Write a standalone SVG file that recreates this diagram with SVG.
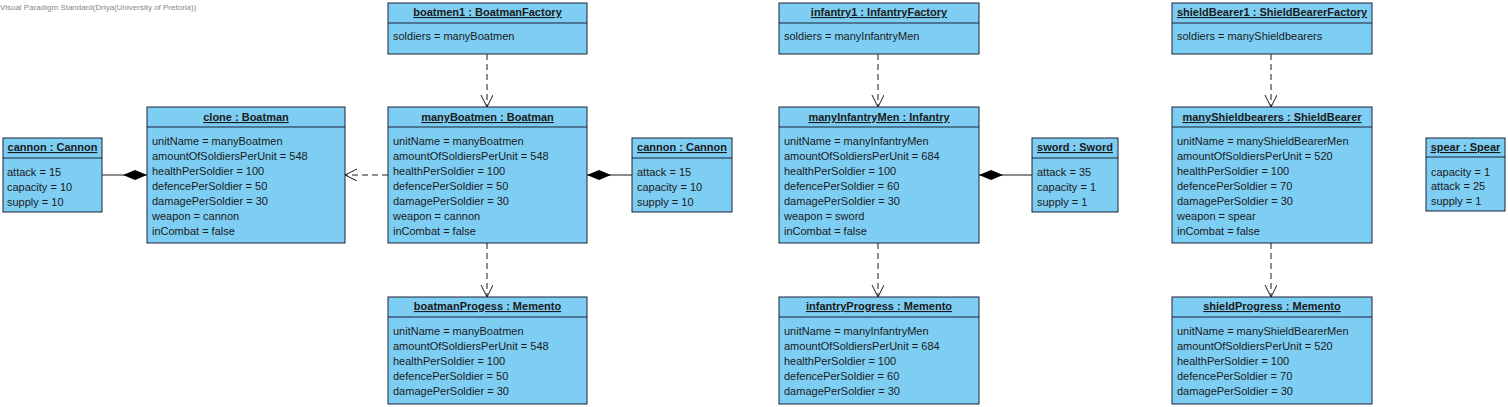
<svg xmlns="http://www.w3.org/2000/svg" width="1508" height="407" viewBox="0 0 1508 407">
<style>
.box{fill:#7ECEF4;stroke:#1a2238;stroke-width:1}
.sep{stroke:#1a2238;stroke-width:1}
.h{font-family:"Liberation Sans",Arial,sans-serif;font-size:11px;font-weight:bold;fill:#1a1a1a;text-anchor:middle;text-decoration:underline}
.a{font-family:"Liberation Sans",Arial,sans-serif;font-size:11px;fill:#1a1a1a}
.wm{font-family:"Liberation Sans",Arial,sans-serif;font-size:8px;fill:#888}
.dep{stroke:#1a1a1a;stroke-width:1;fill:none;stroke-dasharray:6,4}
.comp{stroke:#1a1a1a;stroke-width:1;fill:none}
</style>
<defs>
<marker id="open" markerUnits="userSpaceOnUse" markerWidth="14" markerHeight="14" refX="12" refY="6" orient="auto" viewBox="0 0 14 14">
<path d="M0,0 L12,6 L0,12" fill="none" stroke="#1a1a1a" stroke-width="1"/>
</marker>
<marker id="dia" markerUnits="userSpaceOnUse" markerWidth="26" markerHeight="12" refX="24" refY="5" orient="auto" viewBox="0 0 26 12">
<path d="M0,5 L12,0 L24,5 L12,10 Z" fill="#000"/>
</marker>
</defs>
<text class="wm" x="0" y="10">Visual Paradigm Standard(Driya(University of Pretoria))</text>

<g id="connectors">
<line class="dep" x1="487" y1="54" x2="487" y2="107" marker-end="url(#open)"/>
<line class="dep" x1="487" y1="243" x2="487" y2="297" marker-end="url(#open)"/>
<line class="dep" x1="388" y1="175" x2="345" y2="175" marker-end="url(#open)"/>
<line class="comp" x1="102" y1="175" x2="147" y2="175" marker-end="url(#dia)"/>
<line class="comp" x1="632" y1="175" x2="587" y2="175" marker-end="url(#dia)"/>
<line class="dep" x1="878" y1="54" x2="878" y2="107" marker-end="url(#open)"/>
<line class="dep" x1="878" y1="243" x2="878" y2="297" marker-end="url(#open)"/>
<line class="comp" x1="1032" y1="175" x2="979" y2="175" marker-end="url(#dia)"/>
<line class="dep" x1="1271" y1="54" x2="1271" y2="107" marker-end="url(#open)"/>
<line class="dep" x1="1271" y1="243" x2="1271" y2="297" marker-end="url(#open)"/>
</g>

<g id="cannonLeft">
<rect class="box" x="3" y="138" width="99" height="74"/>
<line class="sep" x1="3" y1="158" x2="102" y2="158"/>
<text class="h" x="52.5" y="151">cannon : Cannon</text>
<text class="a" x="7" y="176">attack = 15</text>
<text class="a" x="7" y="191">capacity = 10</text>
<text class="a" x="7" y="206">supply = 10</text>
</g>

<g id="clone">
<rect class="box" x="147" y="107" width="198" height="136"/>
<line class="sep" x1="147" y1="127" x2="345" y2="127"/>
<text class="h" x="246" y="121">clone : Boatman</text>
<text class="a" x="152" y="145">unitName = manyBoatmen</text>
<text class="a" x="152" y="160">amountOfSoldiersPerUnit = 548</text>
<text class="a" x="152" y="175">healthPerSoldier = 100</text>
<text class="a" x="152" y="190">defencePerSoldier = 50</text>
<text class="a" x="152" y="205">damagePerSoldier = 30</text>
<text class="a" x="152" y="220">weapon = cannon</text>
<text class="a" x="152" y="235">inCombat = false</text>
</g>

<g id="boatmen1">
<rect class="box" x="388" y="3" width="199" height="51"/>
<line class="sep" x1="388" y1="23" x2="587" y2="23"/>
<text class="h" x="487.5" y="16">boatmen1 : BoatmanFactory</text>
<text class="a" x="393" y="40">soldiers = manyBoatmen</text>
</g>

<g id="manyBoatmen">
<rect class="box" x="388" y="107" width="199" height="136"/>
<line class="sep" x1="388" y1="127" x2="587" y2="127"/>
<text class="h" x="487.5" y="121">manyBoatmen : Boatman</text>
<text class="a" x="393" y="145">unitName = manyBoatmen</text>
<text class="a" x="393" y="160">amountOfSoldiersPerUnit = 548</text>
<text class="a" x="393" y="175">healthPerSoldier = 100</text>
<text class="a" x="393" y="190">defencePerSoldier = 50</text>
<text class="a" x="393" y="205">damagePerSoldier = 30</text>
<text class="a" x="393" y="220">weapon = cannon</text>
<text class="a" x="393" y="235">inCombat = false</text>
</g>

<g id="cannonRight">
<rect class="box" x="632" y="138" width="100" height="74"/>
<line class="sep" x1="632" y1="158" x2="732" y2="158"/>
<text class="h" x="682" y="151">cannon : Cannon</text>
<text class="a" x="637" y="176">attack = 15</text>
<text class="a" x="637" y="191">capacity = 10</text>
<text class="a" x="637" y="206">supply = 10</text>
</g>

<g id="boatmanProgess">
<rect class="box" x="388" y="297" width="199" height="107"/>
<line class="sep" x1="388" y1="317" x2="587" y2="317"/>
<text class="h" x="487.5" y="310">boatmanProgess : Memento</text>
<text class="a" x="393" y="335">unitName = manyBoatmen</text>
<text class="a" x="393" y="350">amountOfSoldiersPerUnit = 548</text>
<text class="a" x="393" y="365">healthPerSoldier = 100</text>
<text class="a" x="393" y="380">defencePerSoldier = 50</text>
<text class="a" x="393" y="395">damagePerSoldier = 30</text>
</g>

<g id="infantry1">
<rect class="box" x="779" y="3" width="200" height="51"/>
<line class="sep" x1="779" y1="23" x2="979" y2="23"/>
<text class="h" x="879" y="16">infantry1 : InfantryFactory</text>
<text class="a" x="784" y="40">soldiers = manyInfantryMen</text>
</g>

<g id="manyInfantryMen">
<rect class="box" x="779" y="107" width="200" height="136"/>
<line class="sep" x1="779" y1="127" x2="979" y2="127"/>
<text class="h" x="879" y="121">manyInfantryMen : Infantry</text>
<text class="a" x="784" y="145">unitName = manyInfantryMen</text>
<text class="a" x="784" y="160">amountOfSoldiersPerUnit = 684</text>
<text class="a" x="784" y="175">healthPerSoldier = 100</text>
<text class="a" x="784" y="190">defencePerSoldier = 60</text>
<text class="a" x="784" y="205">damagePerSoldier = 30</text>
<text class="a" x="784" y="220">weapon = sword</text>
<text class="a" x="784" y="235">inCombat = false</text>
</g>

<g id="sword">
<rect class="box" x="1032" y="138" width="86" height="74"/>
<line class="sep" x1="1032" y1="158" x2="1118" y2="158"/>
<text class="h" x="1075" y="151">sword : Sword</text>
<text class="a" x="1037" y="176">attack = 35</text>
<text class="a" x="1037" y="191">capacity = 1</text>
<text class="a" x="1037" y="206">supply = 1</text>
</g>

<g id="infantryProgress">
<rect class="box" x="779" y="297" width="200" height="107"/>
<line class="sep" x1="779" y1="317" x2="979" y2="317"/>
<text class="h" x="879" y="310">infantryProgress : Memento</text>
<text class="a" x="784" y="335">unitName = manyInfantryMen</text>
<text class="a" x="784" y="350">amountOfSoldiersPerUnit = 684</text>
<text class="a" x="784" y="365">healthPerSoldier = 100</text>
<text class="a" x="784" y="380">defencePerSoldier = 60</text>
<text class="a" x="784" y="395">damagePerSoldier = 30</text>
</g>

<g id="shieldBearer1">
<rect class="box" x="1172" y="3" width="200" height="51"/>
<line class="sep" x1="1172" y1="23" x2="1372" y2="23"/>
<text class="h" x="1272" y="16">shieldBearer1 : ShieldBearerFactory</text>
<text class="a" x="1177" y="40">soldiers = manyShieldbearers</text>
</g>

<g id="manyShieldbearers">
<rect class="box" x="1172" y="107" width="200" height="136"/>
<line class="sep" x1="1172" y1="127" x2="1372" y2="127"/>
<text class="h" x="1272" y="121">manyShieldbearers : ShieldBearer</text>
<text class="a" x="1177" y="145">unitName = manyShieldBearerMen</text>
<text class="a" x="1177" y="160">amountOfSoldiersPerUnit = 520</text>
<text class="a" x="1177" y="175">healthPerSoldier = 100</text>
<text class="a" x="1177" y="190">defencePerSoldier = 70</text>
<text class="a" x="1177" y="205">damagePerSoldier = 30</text>
<text class="a" x="1177" y="220">weapon = spear</text>
<text class="a" x="1177" y="235">inCombat = false</text>
</g>

<g id="spear">
<rect class="box" x="1426" y="138" width="79" height="73"/>
<line class="sep" x1="1426" y1="157" x2="1505" y2="157"/>
<text class="h" x="1465.5" y="151">spear : Spear</text>
<text class="a" x="1431" y="176">capacity = 1</text>
<text class="a" x="1431" y="190">attack = 25</text>
<text class="a" x="1431" y="205">supply = 1</text>
</g>

<g id="shieldProgress">
<rect class="box" x="1172" y="297" width="200" height="107"/>
<line class="sep" x1="1172" y1="317" x2="1372" y2="317"/>
<text class="h" x="1272" y="310">shieldProgress : Memento</text>
<text class="a" x="1177" y="335">unitName = manyShieldBearerMen</text>
<text class="a" x="1177" y="350">amountOfSoldiersPerUnit = 520</text>
<text class="a" x="1177" y="365">healthPerSoldier = 100</text>
<text class="a" x="1177" y="380">defencePerSoldier = 70</text>
<text class="a" x="1177" y="395">damagePerSoldier = 30</text>
</g>
</svg>
